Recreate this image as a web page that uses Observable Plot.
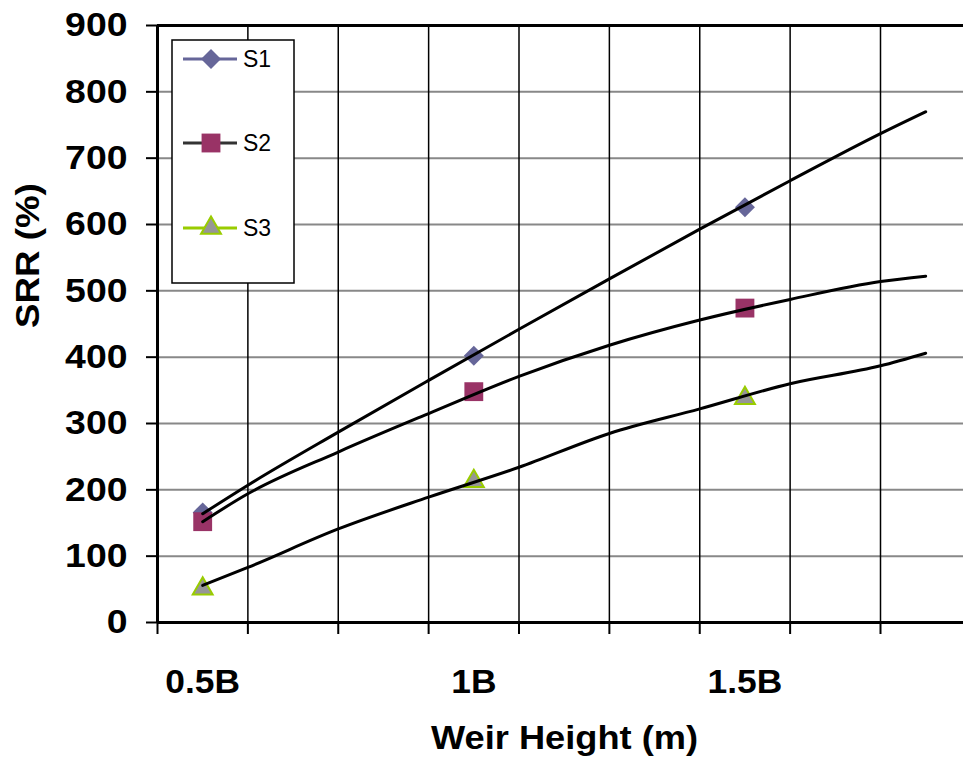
<!DOCTYPE html>
<html><head><meta charset="utf-8">
<script src="https://cdn.jsdelivr.net/npm/d3@7"></script>
<script src="https://cdn.jsdelivr.net/npm/@observablehq/plot@0.6"></script>
<style>
body{margin:0;background:#fff}
#chart{width:963px;height:763px;overflow:hidden}
</style>
</head><body><div id="chart"></div>
<script>
// ---- data ----
const seriesNames = ["S1", "S2", "S3"];
const markerX = [0.5, 1.0, 1.5];
const markerS1 = [166, 402, 626];
const markerS2 = [152, 348, 474];
const markerS3 = [51, 213, 338];

const curveX  = [0.5, 0.5833, 0.75, 0.9167, 1.0833, 1.25, 1.4167, 1.5833, 1.75, 1.8333];
const curveS1 = [164, 207, 287, 365, 442, 518, 593, 666, 737, 770];
const curveS2 = [152, 194, 257, 315, 371, 418, 456, 487, 514, 522];
const curveS3 = [56, 83, 141, 189, 234, 285, 322, 360, 387, 406];

const xTickValues = [0.5, 1.0, 1.5];
const xTickLabels = ["0.5B", "1B", "1.5B"];
const xGridValues = [5/12, 7/12, 9/12, 11/12, 13/12, 15/12, 17/12, 19/12, 21/12];
const yTicks = [0, 100, 200, 300, 400, 500, 600, 700, 800, 900];
const xTitle = "Weir Height (m)";
const yTitle = "SRR (%)";

// ---- tables ----
const markerVals = [markerS1, markerS2, markerS3];
const curveVals = [curveS1, curveS2, curveS3];
const markerRows = seriesNames.flatMap((s, k) => markerX.map((x, i) => ({series: s, x, y: markerVals[k][i]})));
const curveRows = seriesNames.flatMap((s, k) => curveX.map((x, i) => ({series: s, x, y: curveVals[k][i]})));
const xTickRows = xTickValues.map((v, i) => ({v, label: xTickLabels[i]}));

const styles = {
  S1: {symbol: "diamond2", r: 9, fill: "#666699", stroke: "none", strokeWidth: 0, legendLine: "#666699"},
  S2: {symbol: "square2", r: 12, fill: "#993366", stroke: "none", strokeWidth: 0, legendLine: "#333333"},
  S3: {symbol: "triangle2", r: 9.5, fill: "#969696", stroke: "#99cc00", strokeWidth: 2, legendLine: "#99cc00"}
};

const FONT = "'Liberation Sans', Arial, Helvetica, sans-serif";

const plot = Plot.plot({
  width: 963,
  height: 763,
  marginLeft: 157,
  marginRight: 0,
  marginTop: 25,
  marginBottom: 141,
  style: {fontFamily: FONT, fontWeight: "bold", fontSize: "34px", background: "#fff", color: "#000"},
  x: {domain: [5/12, 5/12 + 806 / 542.25]},
  y: {domain: [0, 900]},
  marks: [
    Plot.gridY(yTicks.slice(1, -1), {stroke: "#888888", strokeOpacity: 1, strokeWidth: 2}),
    Plot.gridX(xGridValues.slice(1), {stroke: "#000", strokeOpacity: 1, strokeWidth: 1.5}),
    Plot.ruleY([900], {stroke: "#000", strokeWidth: 3}),
    Plot.ruleY([0], {stroke: "#000", strokeWidth: 3}),
    Plot.ruleX([5/12], {stroke: "#000", strokeWidth: 3}),
    Plot.axisY(yTicks, {tickSize: 11, tickPadding: 19, strokeWidth: 2, label: null, fontSize: 34, className: "ylab"}),
    Plot.axisX(xGridValues, {tickSize: 12, strokeWidth: 2, tickFormat: () => "", label: null}),
    Plot.text(xTickRows, {x: "v", text: "label", frameAnchor: "bottom", dy: 60, lineAnchor: "middle", fontSize: 34, className: "xlab"}),
    Plot.text([xTitle], {text: d => d, frameAnchor: "bottom", dy: 116, dx: 4, lineAnchor: "middle", fontSize: 34, className: "xtitle"}),
    Plot.text([yTitle], {text: d => d, frameAnchor: "left", dx: -129, dy: 4, rotate: -90, lineAnchor: "middle", fontSize: 34, className: "ytitle"}),
    ...seriesNames.map(s => Plot.dot(markerRows.filter(d => d.series === s), {
      x: "x", y: "y", symbol: styles[s].symbol, r: styles[s].r, fill: styles[s].fill,
      stroke: styles[s].stroke, strokeWidth: styles[s].strokeWidth
    })),
    Plot.line(curveRows, {x: "x", y: "y", z: "series", stroke: "#000", strokeWidth: 3, curve: "monotone-x", strokeLinejoin: "round", strokeLinecap: "round"})
  ]
});

document.getElementById("chart").appendChild(plot);

// horizontal stretch of the bold labels, as in the reference
function stretch(sel, k) {
  plot.querySelectorAll(sel).forEach(t => {
    const w = t.getComputedTextLength();
    if (w > 0) {
      t.setAttribute("textLength", (w * k).toFixed(1));
      t.setAttribute("lengthAdjust", "spacingAndGlyphs");
    }
  });
}
stretch(".ylab text", 1.1);
stretch(".xlab text", 1.04);
stretch(".xtitle text", 1.065);
stretch(".ytitle text", 1.08);

// ---- legend inside the plot area ----
const svg = d3.select(plot);
const lg = svg.append("g").attr("class", "legend");
lg.append("rect").attr("x", 172).attr("y", 40).attr("width", 122).attr("height", 243)
  .attr("fill", "#fff").attr("stroke", "#000").attr("stroke-width", 1.5);
const symMap = {diamond2: d3.symbolDiamond2, square2: d3.symbolSquare2, triangle2: d3.symbolTriangle2};
const rowY = [59, 143, 228];
seriesNames.forEach((s, i) => {
  const st = styles[s];
  const y = rowY[i];
  lg.append("line").attr("x1", 183).attr("x2", 237).attr("y1", y).attr("y2", y)
    .attr("stroke", st.legendLine).attr("stroke-width", 3);
  lg.append("path").attr("transform", `translate(211,${y})`)
    .attr("d", d3.symbol(symMap[st.symbol], Math.PI * st.r * st.r)())
    .attr("fill", st.fill).attr("stroke", st.stroke).attr("stroke-width", st.strokeWidth);
  lg.append("text").attr("x", 243).attr("y", y).attr("dy", "0.36em")
    .attr("text-anchor", "start")
    .attr("font-family", FONT).attr("font-weight", "normal").attr("font-size", 23)
    .text(s);
});
</script>
</body></html>
